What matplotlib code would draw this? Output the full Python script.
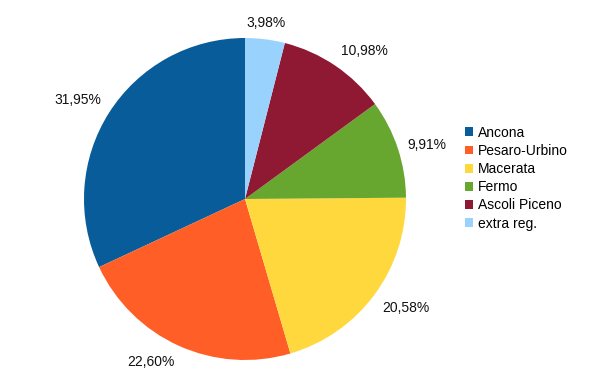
import numpy as np
import matplotlib.pyplot as plt
from matplotlib.patches import Patch

plt.rcParams['font.family'] = ['Liberation Sans', 'DejaVu Sans']

# data
provinces = ['Ancona', 'Pesaro-Urbino', 'Macerata', 'Fermo', 'Ascoli Piceno', 'extra reg.']
shares = [31.95, 22.60, 20.58, 9.91, 10.98, 3.98]
colors = ['#075c99', '#ff5f26', '#ffd83d', '#68a72f', '#8f1832', '#99d3fd']

W, H = 605, 383
fig = plt.figure(figsize=(W / 100, H / 100), dpi=100)

# pie centre (245, 199) px, radius 161 px
cx, cy, r = 245, 199, 161
ax = fig.add_axes([(cx - r) / W, 1 - (cy + r) / H, 2 * r / W, 2 * r / H])
wedges, _ = ax.pie(shares, colors=colors, startangle=90, counterclock=True,
                   wedgeprops=dict(linewidth=0))
ax.set_xlim(-1, 1)
ax.set_ylim(-1, 1)
ax.set_aspect('equal')
ax.axis('off')

# percentage labels just outside the wedges
for w, v in zip(wedges, shares):
    ang = np.deg2rad((w.theta1 + w.theta2) / 2)
    c, s = np.cos(ang), np.sin(ang)
    ha = 'left' if c > 0.15 else ('right' if c < -0.15 else 'center')
    va = 'bottom' if s > 0.35 else ('top' if s < -0.35 else 'center')
    ax.text(1.06 * c, 1.06 * s, f'{v:.2f}%'.replace('.', ','),
            ha=ha, va=va, fontsize=10, color='#111111', clip_on=False)

handles = [Patch(facecolor=col, edgecolor='none') for col in colors]
fig.legend(handles, provinces, loc='upper left',
           bbox_to_anchor=(455 / W, 1 - 116 / H), frameon=False,
           fontsize=10, handlelength=0.6, handleheight=0.6,
           handletextpad=0.35, labelspacing=0.3, borderpad=0.2)

fig.savefig('out.png', dpi=100, facecolor='white')
